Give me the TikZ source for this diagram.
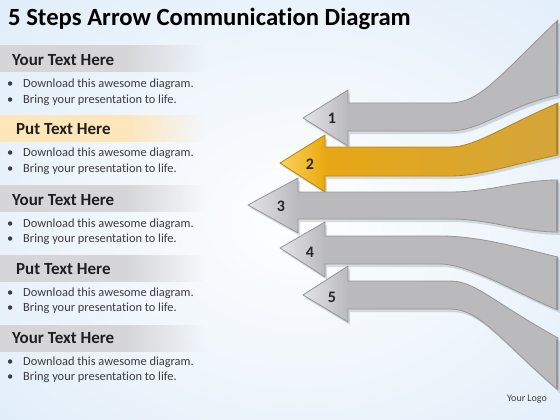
\documentclass[tikz,border=0pt]{standalone}
\usepackage{fontspec}
\setmainfont[Ligatures=NoCommon]{Carlito}
\usetikzlibrary{fadings}
\tikzfading[name=bgfade, inner color=transparent!0, outer color=transparent!100]
\definecolor{bgblue}{RGB}{208,228,246}
\definecolor{bandgray}{RGB}{214,214,216}
\definecolor{bandyel}{RGB}{253,230,185}
\definecolor{argray}{RGB}{186,186,188}
\definecolor{arlight}{RGB}{228,228,230}
\definecolor{aredge}{RGB}{150,150,152}
\definecolor{gold}{RGB}{234,168,14}
\definecolor{goldr}{RGB}{212,165,60}
\definecolor{goldl}{RGB}{250,212,95}
\definecolor{goldedge}{RGB}{185,132,12}
\definecolor{txt}{RGB}{60,60,66}
\tikzset{
  arshadow/.style={fill=black, opacity=0.13},
  arfill/.style={fill=argray},
  arline/.style={draw=aredge, line width=0.8pt, line join=round},
  goldline/.style={draw=goldedge, line width=0.8pt, line join=round},
  numtxt/.style={font=\fontsize{16}{18}\selectfont\bfseries, text=black!85},
  hdr/.style={anchor=base west, inner sep=0pt, font=\fontsize{17}{19}\selectfont\bfseries, text=black!88},
  bul/.style={anchor=base west, inner sep=0pt, font=\fontsize{12.4}{14}\selectfont, text=txt},
}
\def\pathA{(303,118) -- (348,90) -- (348,103) -- (450,103) .. controls (480,103) and (500,75) .. (558,20) -- (558,95) .. controls (510,105) and (480,131) .. (450,131) -- (348,131) -- (348,146) -- cycle}
\def\pathB{(280,163) -- (325,135) -- (325,147) -- (450,147) .. controls (475,147) and (500,128) .. (558,103) -- (558,155) .. controls (510,165) and (480,176) .. (450,176) -- (325,176) -- (325,192) -- cycle}
\def\pathC{(248,205) -- (298,178) -- (298,192) -- (450,192) .. controls (490,192) and (520,180) .. (558,180) -- (558,232) .. controls (520,232) and (490,219) .. (450,219) -- (298,219) -- (298,233) -- cycle}
\def\pathD{(280,248) -- (325,222) -- (325,236) -- (440,236) .. controls (480,236) and (520,248) .. (558,257) -- (558,310) .. controls (520,295) and (470,264) .. (440,264) -- (325,264) -- (325,277) -- cycle}
\def\pathE{(303,295) -- (348,266) -- (348,281) -- (450,281) .. controls (475,281) and (490,300) .. (558,338) -- (558,390) .. controls (500,340) and (480,309) .. (450,309) -- (348,309) -- (348,322) -- cycle}
\begin{document}
\begin{tikzpicture}[x=1pt,y=-1pt]
\useasboundingbox (0,0) rectangle (560,420);
% background
\fill[bgblue] (0,0) rectangle (560,420);
\fill[white, path fading=bgfade] (300,220) ellipse [x radius=640, y radius=500];
% left bands
\foreach \t/\c in {45/bandgray,115/bandyel,185/bandgray,255/bandgray,325/bandgray}{
  \fill[\c] (0,\t) rectangle (125,\t+27);
  \fill[\c, path fading=east] (125,\t) rectangle (205,\t+27);
}
% title
\node[anchor=base west, inner sep=0pt, font=\fontsize{24.7}{28}\selectfont\bfseries, text=black] (title) at (8,26) {5 Steps Arrow Communication Diagram};
% sections
\node[hdr] (h1) at (12,66) {Your Text Here};
\node[hdr] (h2) at (16,135) {Put Text Here};
\node[hdr] (h3) at (12,205) {Your Text Here};
\node[hdr] (h4) at (16,274) {Put Text Here};
\node[hdr] (h5) at (12,343) {Your Text Here};
\foreach \b [count=\i] in {88,157,227,296,365}{
  \node[bul] (d\i) at (23,\b) {Download this awesome diagram.};
  \node[bul] (r\i) at (23,\b+15) {Bring your presentation to life.};
  \node[bul] (bd\i) at (7,\b) {•};
  \node[bul] (br\i) at (7,\b+15) {•};
}
% arrows
% arrow 1
\fill[arshadow, shift={(2,3)}] \pathA;
\fill[arfill] \pathA;
\shade[left color=arlight, right color=argray] (303,118) -- (348,90) -- (348,146) -- cycle;
\draw[arline] \pathA;
\draw[aredge, line width=2pt] (557,21) -- (557,94);
% arrow 2
\fill[arshadow, shift={(2,3)}] \pathB;
\shade[left color=gold, right color=goldr] \pathB;
\shade[left color=goldl, right color=gold] (280,163) -- (325,135) -- (325,192) -- cycle;
\draw[goldline] \pathB;
\draw[goldedge, line width=2pt] (557,104) -- (557,154);
% arrow 3
\fill[arshadow, shift={(2,3)}] \pathC;
\fill[arfill] \pathC;
\shade[left color=arlight, right color=argray] (248,205) -- (298,178) -- (298,233) -- cycle;
\draw[arline] \pathC;
\draw[aredge, line width=2pt] (557,181) -- (557,231);
% arrow 4
\fill[arshadow, shift={(2,3)}] \pathD;
\fill[arfill] \pathD;
\shade[left color=arlight, right color=argray] (280,248) -- (325,222) -- (325,277) -- cycle;
\draw[arline] \pathD;
\draw[aredge, line width=2pt] (557,258) -- (557,309);
% arrow 5
\fill[arshadow, shift={(2,3)}] \pathE;
\fill[arfill] \pathE;
\shade[left color=arlight, right color=argray] (303,295) -- (348,266) -- (348,322) -- cycle;
\draw[arline] \pathE;
\draw[aredge, line width=2pt] (557,339) -- (557,389);
% numbers
\node[numtxt] (n1) at (332,118) {1};
\node[numtxt] (n2) at (310,164) {2};
\node[numtxt] (n3) at (281,206) {3};
\node[numtxt] (n4) at (310,252) {4};
\node[numtxt] (n5) at (332,297) {5};
% logo
\node[font=\fontsize{10}{12}\selectfont, text=black!75] (logo) at (527,399) {Your Logo};
\end{tikzpicture}
\end{document}
